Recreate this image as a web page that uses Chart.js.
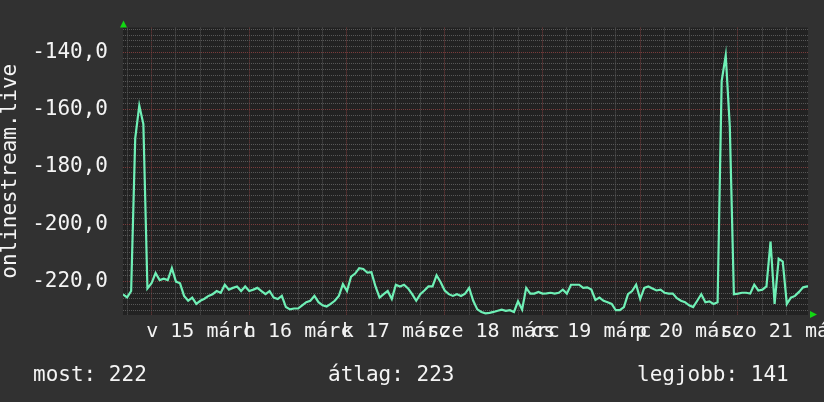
<!DOCTYPE html>
<html>
<head>
<meta charset="utf-8">
<script src="https://cdn.jsdelivr.net/npm/chart.js@4/dist/chart.umd.min.js"></script>
<style>
  html, body { margin: 0; padding: 0; background: #313131; }
  #wrap { position: relative; width: 824px; height: 402px; }
  .legend {
    position: absolute; top: 362px;
    font-family: "DejaVu Sans Mono", monospace; font-size: 21px; color: #f4f4f4;
    white-space: pre;
  }
</style>
</head>
<body>
<div id="wrap">
  <canvas id="rankChart" width="824" height="402"></canvas>
</div>
<script>
// hourly samples, first one at 7 hours before márc 15 00:00
const startHour = -7;
const values = [
  -224.5, -225.5, -223.3, -170.0, -158.5, -165.0, -222.4,
  -220.6, -217.0, -219.5, -219.0, -219.5, -215.3, -220.0, -220.6, -225.0, -226.7, -225.6, -227.8,
  -226.7, -226.0, -225.0, -224.4, -223.3, -223.9, -221.1, -222.8, -222.2, -221.7, -223.3, -221.7,
  -223.3, -222.8, -222.2, -223.3, -224.4, -223.3, -225.6, -226.1, -225.0, -228.9, -229.7, -229.4,
  -229.4, -228.3, -227.2, -226.7, -225.0, -227.2, -228.3, -228.7, -227.8, -226.7, -225.0, -220.9,
  -223.3, -218.3, -217.2, -215.3, -215.6, -216.9, -216.7, -221.7, -225.6, -224.4, -223.3, -226.1,
  -221.1, -221.7, -221.1, -222.4, -224.4, -226.7, -224.4, -223.1, -221.7, -221.7, -217.8, -220.2,
  -223.1, -224.4, -225.0, -224.4, -225.0, -224.2, -222.2, -226.7, -229.7, -230.6, -231.1, -230.9,
  -230.6, -230.2, -229.8, -230.2, -230.0, -230.6, -226.9, -229.8, -222.2, -224.2, -224.2, -223.6,
  -224.2, -224.1, -223.9, -224.2, -223.9, -222.8, -224.2, -221.1, -221.1, -221.1, -222.2, -222.0,
  -222.8, -226.4, -225.6, -226.7, -227.2, -227.8, -230.0, -230.0, -228.9, -224.4, -223.3, -221.1,
  -226.1, -222.2, -221.7, -222.4, -223.1, -222.8, -223.9, -224.2, -224.2, -225.8, -226.7, -227.2,
  -228.3, -228.9, -226.7, -224.4, -227.2, -226.9, -227.8, -227.2, -150.0, -141.0, -166.0, -224.4,
  -224.2, -223.9, -223.9, -224.2, -221.1, -223.1, -222.8, -221.7, -206.0, -227.8, -212.0, -213.0,
  -227.8, -225.6, -225.0, -223.6, -222.0, -221.7, -221.7
];
const dayLabels = ['v 15 márc', 'h 16 márc', 'k 17 márc', 'sze 18 márc', 'cs 19 márc', 'p 20 márc', 'szo 21 márc'];
const yTickLabels = [-220, -200, -180, -160, -140];
const legendItems = [
  { text: 'most: 222', left: 33 },
  { text: 'átlag: 223', left: 328 },
  { text: 'legjobb: 141', left: 637 }
];

const points = values.map((v, i) => ({ x: startHour + i, y: v }));

const gridMinor = '#575757';
const gridMajor = '#7a3c3c';

const plotBg = {
  id: 'plotBg',
  beforeDraw(chart) {
    const { ctx, chartArea: a } = chart;
    ctx.save();
    ctx.fillStyle = '#222222';
    ctx.fillRect(a.left, a.top, a.right - a.left, a.bottom - a.top);
    ctx.restore();
  },
  afterDraw(chart) {
    // little green arrow heads at the axis ends
    const { ctx, chartArea: a } = chart;
    ctx.save();
    ctx.fillStyle = '#12d812';
    ctx.beginPath();
    ctx.moveTo(a.left - 3, a.top);
    ctx.lineTo(a.left + 4, a.top);
    ctx.lineTo(a.left + 0.5, a.top - 7);
    ctx.fill();
    ctx.beginPath();
    ctx.moveTo(a.right + 2, a.bottom - 4);
    ctx.lineTo(a.right + 2, a.bottom + 3);
    ctx.lineTo(a.right + 9, a.bottom - 0.5);
    ctx.fill();
    ctx.restore();
  }
};

const ctx = document.getElementById('rankChart').getContext('2d');
new Chart(ctx, {
  type: 'line',
  data: {
    datasets: [{
      data: points,
      borderColor: '#6ff0b6',
      borderWidth: 2.2,
      pointRadius: 0,
      tension: 0,
      fill: false
    }]
  },
  options: {
    responsive: false,
    animation: false,
    layout: { padding: { left: 0, top: 14, right: 16, bottom: 0 } },
    plugins: { legend: { display: false }, tooltip: { enabled: false } },
    scales: {
      x: {
        type: 'linear',
        min: -7,
        max: 161.2,
        afterBuildTicks(scale) {
          const t = [];
          for (let h = -6; h <= 156; h += 6) t.push({ value: h });
          scale.ticks = t;
        },
        afterFit(scale) {
          scale.height = 87;
          scale.paddingLeft = 0;
          scale.paddingRight = 0;
        },
        grid: {
          drawTicks: false,
          color: c => (c.tick && c.tick.value % 24 === 0) ? gridMajor : gridMinor,
          lineWidth: 1
        },
        border: { display: false, dash: [1, 1] },
        ticks: {
          autoSkip: false,
          maxRotation: 0,
          minRotation: 0,
          padding: 5,
          color: '#f4f4f4',
          font: { family: 'DejaVu Sans Mono', size: 20 },
          callback: v => (((v % 24) + 24) % 24 === 12) ? (dayLabels[(v - 12) / 24] || '') : ''
        }
      },
      y: {
        min: -231.667,
        max: -131.333,
        afterBuildTicks(scale) {
          const t = [];
          for (let v = -230; v <= -132; v += 2) t.push({ value: v });
          scale.ticks = t;
        },
        afterFit(scale) { scale.width = 123; },
        grid: {
          drawTicks: false,
          color: c => (c.tick && c.tick.value % 20 === 0) ? gridMajor : gridMinor,
          lineWidth: 1
        },
        border: { display: false, dash: [1, 1] },
        ticks: {
          autoSkip: false,
          padding: 15,
          color: '#f4f4f4',
          font: { family: 'DejaVu Sans Mono', size: 21 },
          callback: v => yTickLabels.includes(v) ? v.toFixed(1).replace('.', ',') : ''
        },
        title: {
          display: true,
          text: 'onlinestream.live',
          color: '#f4f4f4',
          padding: { top: 0, bottom: 0 },
          font: { family: 'DejaVu Sans Mono', size: 21, lineHeight: 1.0 }
        }
      }
    }
  },
  plugins: [plotBg]
});

const wrap = document.getElementById('wrap');
legendItems.forEach(item => {
  const el = document.createElement('div');
  el.className = 'legend';
  el.style.left = item.left + 'px';
  el.textContent = item.text;
  wrap.appendChild(el);
});
</script>
</body>
</html>
